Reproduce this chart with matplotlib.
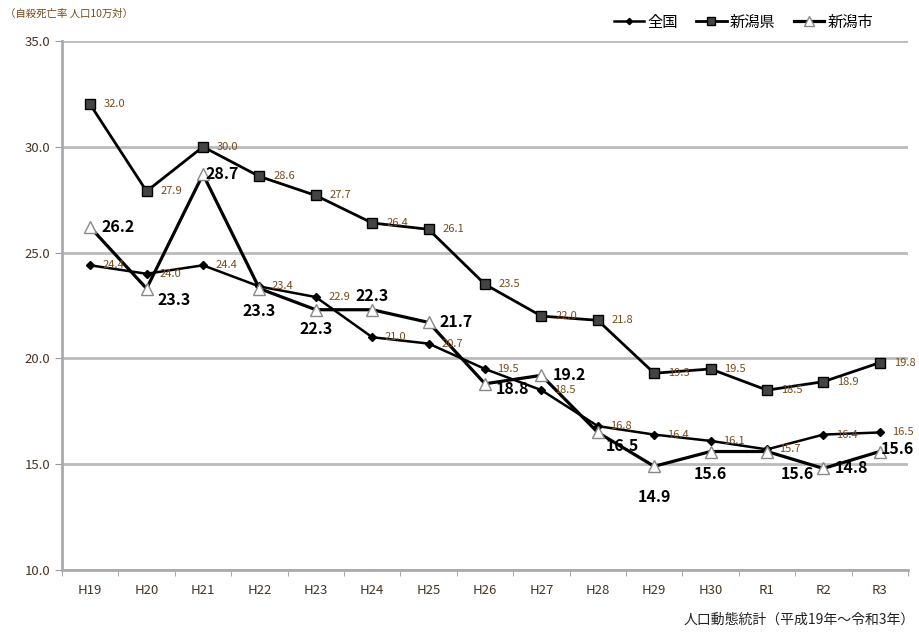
import matplotlib
matplotlib.use("Agg")
import matplotlib.pyplot as plt

plt.rcParams['font.family'] = ['Noto Sans CJK JP', 'DejaVu Sans']

years = ["H19", "H20", "H21", "H22", "H23", "H24", "H25", "H26", "H27", "H28", "H29", "H30", "R1", "R2", "R3"]
national = [24.4, 24.0, 24.4, 23.4, 22.9, 21.0, 20.7, 19.5, 18.5, 16.8, 16.4, 16.1, 15.7, 16.4, 16.5]
prefecture = [32.0, 27.9, 30.0, 28.6, 27.7, 26.4, 26.1, 23.5, 22.0, 21.8, 19.3, 19.5, 18.5, 18.9, 19.8]
city = [26.2, 23.3, 28.7, 23.3, 22.3, 22.3, 21.7, 18.8, 19.2, 16.5, 14.9, 15.6, 15.6, 14.8, 15.6]
series_names = ["全国", "新潟県", "新潟市"]
yticks = [10.0, 15.0, 20.0, 25.0, 30.0, 35.0]

# label offsets (points) for city labels
city_offsets = [(8, 0), (8, -8), (2, 0), (0, -16), (0, -14), (0, 10), (8, 0), (8, -4),
                (8, 0), (6, -10), (0, -22), (0, -16), (10, -16), (8, 0), (1, 2)]

fig = plt.figure(figsize=(9.19, 6.36), dpi=100)
ax = fig.add_axes([62/919, 1-570/636, 846/919, 529/636])

x = list(range(len(years)))
lab_col = '#7a4a1a'
tick_col = '#4a3322'

ax.plot(x, prefecture, color='black', lw=2, marker='s', ms=6.5,
        mfc='#444444', mec='black', zorder=3, label=series_names[1])
ax.plot(x, national, color='black', lw=1.8, marker='D', ms=4,
        mfc='black', mec='black', zorder=4, label=series_names[0])
ax.plot(x, city, color='black', lw=2.3, marker='^', ms=8.5,
        mfc='white', mec='#888888', zorder=5, label=series_names[2])

for i, v in enumerate(national):
    ax.annotate(f"{v:.1f}", (i, v), xytext=(9, 0), textcoords='offset points',
                ha='left', va='center', fontsize=8, color=lab_col, zorder=6)
for i, v in enumerate(prefecture):
    ax.annotate(f"{v:.1f}", (i, v), xytext=(10, 0), textcoords='offset points',
                ha='left', va='center', fontsize=8, color=lab_col, zorder=6)
for i, v in enumerate(city):
    dx, dy = city_offsets[i]
    ha = 'left' if dx > 0 else 'center'
    ax.annotate(f"{v:.1f}", (i, v), xytext=(dx, dy), textcoords='offset points',
                ha=ha, va='center', fontsize=11.5, fontweight='bold', color='black', zorder=7)

ax.set_xlim(-0.5, len(years) - 0.5)
ax.set_ylim(10, 35)
ax.set_yticks(yticks)
ax.set_yticklabels([f"{t:.1f}" for t in yticks], color=tick_col, fontsize=9.5)
ax.set_xticks(x)
ax.set_xticklabels(years, color=tick_col, fontsize=9.5)
ax.set_xticks([i + 0.5 for i in range(-1, len(years))], minor=True)
ax.tick_params(axis='x', which='major', length=0, pad=10)
ax.tick_params(axis='x', which='minor', length=4, color='#999999')
ax.tick_params(axis='y', length=5, color='#999999')
ax.yaxis.grid(True, color='#bbbbbb', lw=2)
ax.set_axisbelow(True)
for s in ['top', 'right']:
    ax.spines[s].set_visible(False)
for s in ['left', 'bottom']:
    ax.spines[s].set_color('#aaaaaa')
    ax.spines[s].set_linewidth(2)

handles, labels = ax.get_legend_handles_labels()
order = [1, 0, 2]
fig.legend([handles[i] for i in order], [labels[i] for i in order],
           loc='upper right', bbox_to_anchor=(0.965, 1.0), ncol=3, frameon=False,
           fontsize=11, handlelength=2.0, handletextpad=0.2, columnspacing=1.2,
           markerscale=0.8)

fig.text(5/919, 1-14/636, "（自殺死亡率 人口10万対）", fontsize=7.5, color=lab_col,
         ha='left', va='center')
fig.text(915/919, 1-620/636, "人口動態統計（平成19年～令和3年）", fontsize=10,
         color='#222222', ha='right', va='center')

fig.savefig("out.png", dpi=100)
